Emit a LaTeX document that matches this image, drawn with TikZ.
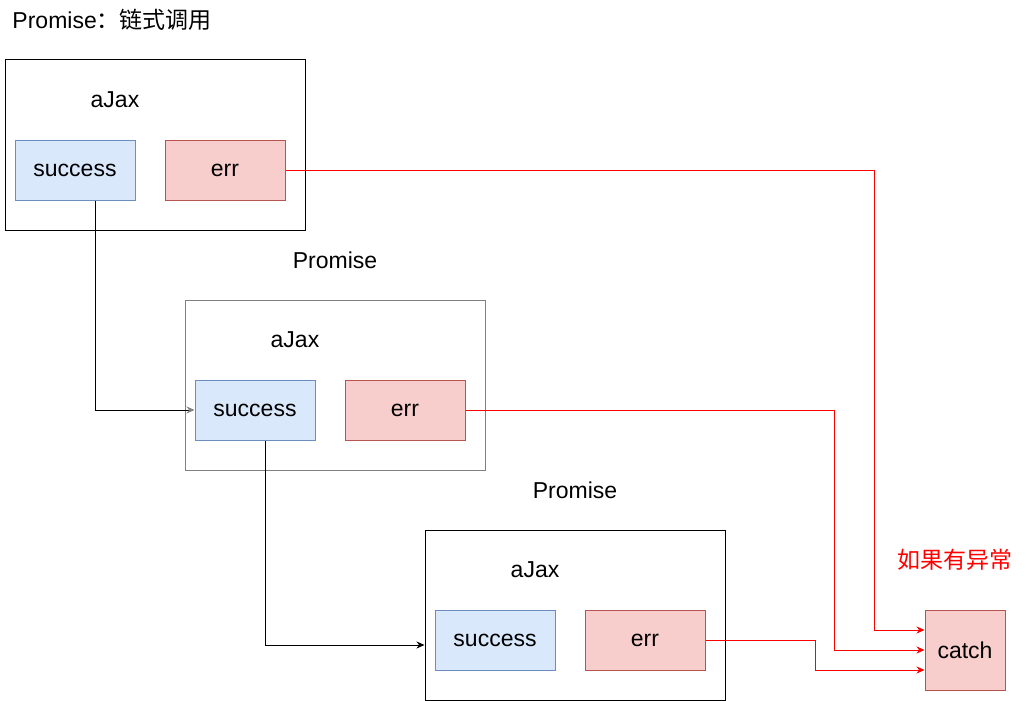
\documentclass[tikz,border=0pt]{standalone}
\usepackage{fontspec}
\setmainfont{Liberation Sans}
\newfontfamily\cjk{Noto Sans CJK SC}
\usepackage{tikz}
\usetikzlibrary{arrows.meta}
\definecolor{okfill}{HTML}{DAE8FC}
\definecolor{okdraw}{HTML}{6C8EBF}
\definecolor{errfill}{HTML}{F8CECC}
\definecolor{errdraw}{HTML}{B85450}
\definecolor{framegray}{HTML}{808080}
\tikzset{
    every node/.style={inner sep=0pt,font=\fontsize{23}{27}\selectfont},
    container/.style={rectangle,draw,fill=white,minimum width=300,minimum height=170},
    okbox/.style={rectangle,draw=okdraw,fill=okfill,minimum width=120,minimum height=60},
    errbox/.style={rectangle,draw=errdraw,fill=errfill,minimum width=120,minimum height=60},
    directed/.style={arrows={-Stealth[length=8pt,width=7pt]}},
    redline/.style={directed,draw=red},
    }
\begin{document}
\begin{tikzpicture}[x=1pt,y=-1pt,line width=1pt]
    \useasboundingbox (0,0) rectangle (1026,701);
    \node[anchor=west] (title) at (12,20) {Promise{\cjk：链式调用}};

    \node[container] (box1) at (155,145) {};
    \node (ajax1) at (115,100) {aJax};
    \node[okbox] (succ1) at (75,170) {success};
    \node[errbox] (err1) at (225,170) {err};

    \node (prom2) at (335,260) {Promise};
    \node[container,draw=framegray] (box2) at (335,385) {};
    \node (ajax2) at (295,340) {aJax};
    \node[okbox] (succ2) at (255,410) {success};
    \node[errbox] (err2) at (405,410) {err};

    \node (prom3) at (575,490) {Promise};
    \node[container] (box3) at (575,615) {};
    \node (ajax3) at (535,570) {aJax};
    \node[okbox] (succ3) at (495,640) {success};
    \node[errbox] (err3) at (645,640) {err};

    \node[errbox,minimum width=80,minimum height=80] (catch) at (965,650) {catch};
    \node[text=red] (warn) at (955,560) {\cjk 如果有异常};

    \draw[arrows={-Stealth[length=8pt,width=7pt,color=framegray]}] ([xshift=20pt]succ1.south) |- (succ2.west);
    \draw[directed] ([xshift=10pt]succ2.south) |- ([yshift=-30pt]box3.west);

    \draw[redline] (err1.east) -| ([xshift=-50pt,yshift=20pt]catch.west) -- ([yshift=20pt]catch.west);
    \draw[redline] (err2.east) -| ([xshift=-90pt]catch.west) -- (catch.west);
    \draw[redline] (err3.east) -- ++(110,0) |- ([yshift=-20pt]catch.west);
\end{tikzpicture}
\end{document}
